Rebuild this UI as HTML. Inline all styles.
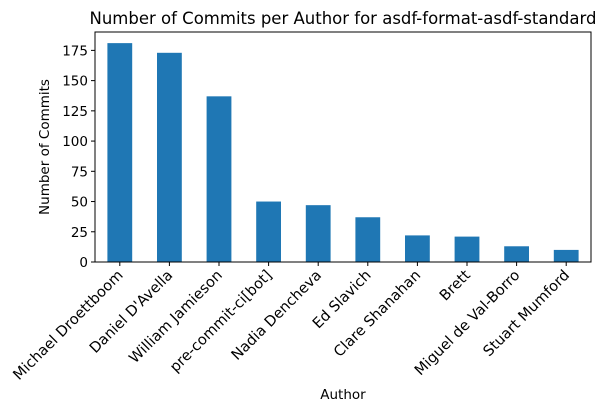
<!DOCTYPE html>
<html><head><meta charset="utf-8"><style>
body{margin:0;background:#fff;}
svg text{font-family:"DejaVu Sans","Liberation Sans",sans-serif;fill:#000;}
</style></head><body>
<svg id="chart" width="608" height="411" xmlns="http://www.w3.org/2000/svg">
<rect width="608" height="411" fill="#fff"/>
<text x="343" y="24" font-size="16.5" text-anchor="middle">Number of Commits per Author for asdf-format-asdf-standard</text>
<g id="bars"></g>
<g id="yticks"></g>
<g id="xticks"></g>
<rect x="95" y="32" width="496" height="230" fill="none" stroke="#000" stroke-width="1"/>
<text transform="translate(49,147) rotate(-90)" font-size="13.5" text-anchor="middle">Number of Commits</text>
<text x="343" y="399" font-size="13.5" text-anchor="middle">Author</text>
</svg>
<script>
const categories=["Michael Droettboom","Daniel D'Avella","William Jamieson","pre-commit-ci[bot]","Nadia Dencheva","Ed Slavich","Clare Shanahan","Brett","Miguel de Val-Borro","Stuart Mumford"];
const commits=[181,173,137,50,47,37,22,21,13,10];
const yTicks=[0,25,50,75,100,125,150,175];
const L=95,R=591,T=32,B=262,yMax=190.2;
const NS="http://www.w3.org/2000/svg";
const step=(R-L)/categories.length;
function xc(i){return L+step*(i+0.5);}
function y(v){return B-(v/yMax)*(B-T);}
const bars=document.getElementById('bars'),yt=document.getElementById('yticks'),xt=document.getElementById('xticks');
categories.forEach((c,i)=>{
  const r=document.createElementNS(NS,'rect');
  
  
  r.setAttribute('x',xc(i)-step/4);r.setAttribute('width',step/2);
  r.setAttribute('y',y(commits[i]));r.setAttribute('height',B-y(commits[i]));
  r.setAttribute('fill','#1f77b4');bars.appendChild(r);
  const t=document.createElementNS(NS,'line');
  
  
  t.setAttribute('x1',xc(i));t.setAttribute('x2',xc(i));t.setAttribute('y1',B);t.setAttribute('y2',B+4);
  t.setAttribute('stroke','#000');xt.appendChild(t);
  const l=document.createElementNS(NS,'text');
  
  
  l.setAttribute('font-size','14.6');l.setAttribute('text-anchor','end');
  l.setAttribute('transform','translate('+(xc(i)+4)+','+(B+14)+') rotate(-45)');
  l.textContent=c;xt.appendChild(l);
});
yTicks.forEach(v=>{
  const t=document.createElementNS(NS,'line');
  
  
  t.setAttribute('x1',L-4);t.setAttribute('x2',L);t.setAttribute('y1',y(v));t.setAttribute('y2',y(v));
  t.setAttribute('stroke','#000');yt.appendChild(t);
  const l=document.createElementNS(NS,'text');
  
  
  l.setAttribute('x',L-7);l.setAttribute('y',y(v)+5);
  l.setAttribute('font-size','13.5');l.setAttribute('text-anchor','end');
  l.textContent=v;yt.appendChild(l);
});
</script>
</body></html>
